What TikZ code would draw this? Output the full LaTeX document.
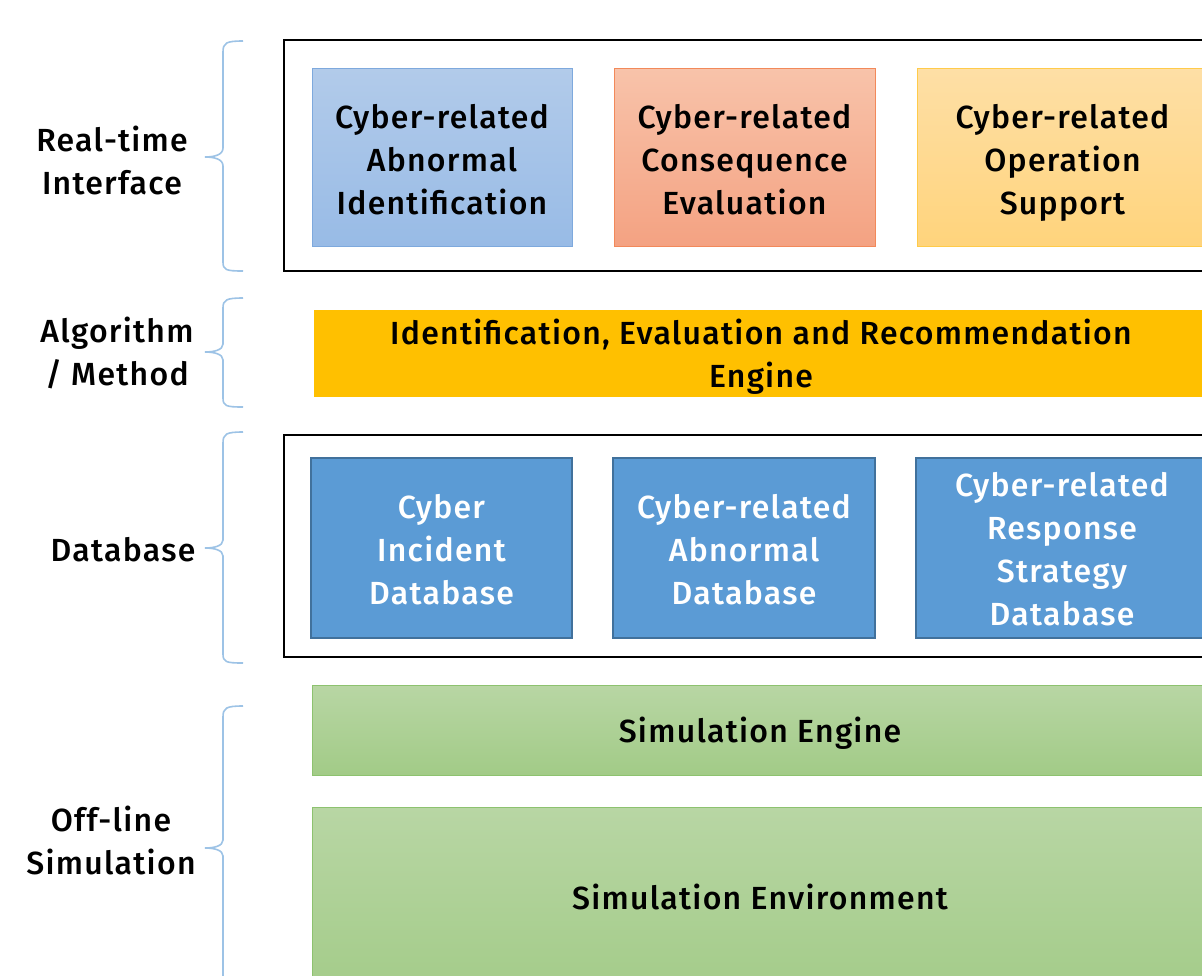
\documentclass[tikz,border=0pt]{standalone}
\usepackage{fontspec}
\setmainfont{Fira Sans Medium}[LetterSpace=4]
\begin{document}
\begin{tikzpicture}[x=1pt,y=-1pt,
  txt/.style={font=\fontsize{32}{43}\selectfont, align=center, inner sep=0pt},
  cell/.style={txt, minimum width=#1, minimum height=178pt},
  frame/.style={draw=black, line width=2.6pt},
  bluebox/.style={draw=boxblueline, line width=1pt, top color=blueTop, bottom color=blueBot},
  orangebox/.style={draw=orangeLine, line width=1pt, top color=orangeTop, bottom color=orangeBot},
  yellowbox/.style={draw=yellowLine, line width=1pt, top color=yellowTop, bottom color=yellowBot},
  dbbox/.style={draw=dbLine, line width=1.5pt, fill=dbFill, text=white},
  greenbox/.style={draw=greenLine, line width=1pt, top color=greenTop, bottom color=greenBot},
  brace/.style={draw=braceCol, line width=1.6pt},
  lbl/.style={txt}
]
\definecolor{boxblueline}{HTML}{7EA9DD}
\definecolor{blueTop}{HTML}{B2CBEA}
\definecolor{blueBot}{HTML}{98BBE6}
\definecolor{orangeLine}{HTML}{F2895A}
\definecolor{orangeTop}{HTML}{F8C3AA}
\definecolor{orangeBot}{HTML}{F4A282}
\definecolor{yellowLine}{HTML}{FFCB4A}
\definecolor{yellowTop}{HTML}{FEDFA6}
\definecolor{yellowBot}{HTML}{FFD47C}
\definecolor{dbLine}{HTML}{41719C}
\definecolor{dbFill}{HTML}{5B9BD5}
\definecolor{greenLine}{HTML}{8DC26F}
\definecolor{greenTop}{HTML}{B8D6A4}
\definecolor{greenBot}{HTML}{A2CB87}
\definecolor{engineFill}{HTML}{FFC000}
\definecolor{braceCol}{HTML}{9DC3E6}

\path[use as bounding box, fill=white] (0,0) rectangle (1202,975);
\begin{scope}
\clip (0,0) rectangle (1202,975);

% top layer
\node[frame, minimum width=930pt, minimum height=231pt, inner sep=0pt] (rtframe) at (749,155.5) {};
\node[cell=260pt, bluebox] (ident) at (442,157) {};
\node[cell=261pt, orangebox] (conseq) at (744.5,157) {};
\node[cell=291pt, yellowbox] (oper) at (1062.5,157) {};
\node[txt] (identtxt) at (442,163) {Cyber-related\\Abnormal\\Identification\vphantom{p}};
\node[txt] (conseqtxt) at (744.5,163) {Cyber-related\\Consequence\\Evaluation\vphantom{p}};
\node[txt] (opertxt) at (1062.5,163) {Cyber-related\\Operation\\Support};

% algorithm layer
\node[txt, fill=engineFill, minimum width=894pt, minimum height=87pt] (engine) at (761,353.5) {};
\node[txt] (enginetxt) at (761,357) {Identification, Evaluation and Recommendation\\Engine\vphantom{p}};

% database layer
\node[frame, minimum width=930pt, minimum height=222pt, inner sep=0pt] (dbframe) at (749,546) {};
\node[cell=261pt, dbbox, minimum height=180pt] (incdb) at (441.5,548) {};
\node[cell=262pt, dbbox, minimum height=180pt] (abndb) at (744,548) {};
\node[cell=292pt, dbbox, minimum height=180pt] (respdb) at (1062,548) {};
\node[txt, text=white] (incdbtxt) at (441.5,552.5) {Cyber\\Incident\\Database\vphantom{p}};
\node[txt, text=white] (abndbtxt) at (744,552.5) {Cyber-related\\Abnormal\\Database\vphantom{p}};
\node[txt, text=white] (respdbtxt) at (1062,552) {Cyber-related\\Response\\Strategy\\Database\vphantom{p}};

% simulation layer
\node[greenbox, minimum width=896pt, minimum height=90pt, inner sep=0pt] (simeng) at (760,730) {};
\node[txt] (simengtxt) at (760,733) {Simulation Engine};
\node[greenbox, minimum width=896pt, minimum height=200pt, inner sep=0pt] (simenv) at (760,907) {};
\node[txt] (simenvtxt) at (760,897) {Simulation Environment};

% labels
\node[lbl] (l1) at (112,164) {Real-time\\Interface\vphantom{p}};
\node[lbl] (l2) at (117,355) {Algorithm\\/ Method\vphantom{p}};
\node[lbl] (l3) at (123,553) {Database\vphantom{p}};
\node[lbl] (l4) at (111,844) {Off-line\\Simulation\vphantom{p}};

% braces
\draw[brace] (243,41) .. controls (226,41) and (223,43) .. (223,52) -- (223,148)
  .. controls (223,155) and (214,157) .. (205,157)
  .. controls (214,157) and (223,159) .. (223,166) -- (223,262)
  .. controls (223,270) and (226,271) .. (243,271);
\draw[brace] (243,298) .. controls (226,298) and (223,300) .. (223,308) -- (223,344)
  .. controls (223,350) and (214,352) .. (205,352)
  .. controls (214,352) and (223,354) .. (223,360) -- (223,398)
  .. controls (223,406) and (226,407) .. (243,407);
\draw[brace] (243,432) .. controls (226,432) and (223,434) .. (223,443) -- (223,540)
  .. controls (223,546) and (214,548) .. (205,548)
  .. controls (214,548) and (223,550) .. (223,556) -- (223,654)
  .. controls (223,662) and (226,663) .. (243,663);
\draw[brace] (243,706) .. controls (226,706) and (223,708) .. (223,717) -- (223,840)
  .. controls (223,846) and (214,848) .. (205,848)
  .. controls (214,848) and (223,850) .. (223,856) -- (223,985);
\end{scope}
\end{tikzpicture}
\end{document}
